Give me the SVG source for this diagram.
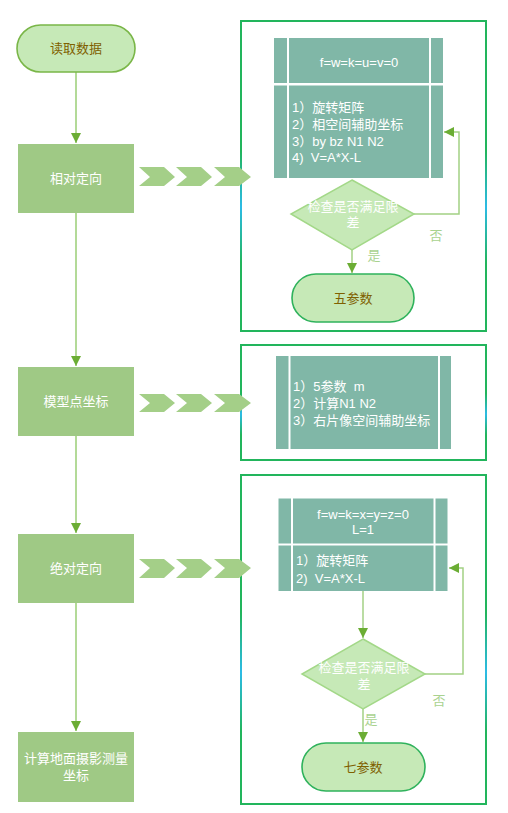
<svg xmlns="http://www.w3.org/2000/svg" width="508" height="813" viewBox="0 0 508 813">
<defs>
<linearGradient id="pg" x1="0" y1="0" x2="0" y2="1">
<stop offset="0" stop-color="#22b55c"/>
<stop offset="0.42" stop-color="#22b55c"/>
<stop offset="0.6" stop-color="#2cbbe6"/>
<stop offset="0.78" stop-color="#22b55c"/>
<stop offset="1" stop-color="#22b55c"/>
</linearGradient>
<marker id="ah" markerUnits="userSpaceOnUse" markerWidth="11" markerHeight="11" refX="10" refY="5" orient="auto">
<path d="M0,0 L10,5 L0,10 z" fill="#6bad34"/>
</marker>
<style>
.t{font-family:"Liberation Sans","Noto Sans CJK SC",sans-serif;font-size:13px;white-space:pre}
.w{fill:#ffffff}
.br{fill:#7f6000}
.lg{fill:#a9d28f}
.box{fill:#9fc985}
.term{fill:#c6e9b7;stroke-width:1.6}
.tab{fill:#80b7a7}
.dia{fill:#c6e9b7;stroke:#a3d888;stroke-width:1.5}
.panel{fill:none;stroke:url(#pg);stroke-width:2}
.chev{fill:#a4cf88}
.ln{fill:none;stroke:#b3da98;stroke-width:2}
.lp{fill:none;stroke:#a3d184;stroke-width:1.5}
</style>
</defs>

<g id="panels">
<rect id="panel1" class="panel" x="241" y="21" width="245" height="310"/>
<rect id="panel2" class="panel" x="241" y="345" width="245" height="115"/>
<rect id="panel3" class="panel" x="241" y="475" width="245" height="329"/>
</g>

<g id="connectors">
<path class="ln" d="M76,72 V143" marker-end="url(#ah)"/>
<path class="ln" d="M76,213 V366" marker-end="url(#ah)"/>
<path class="ln" d="M76,436 V533" marker-end="url(#ah)"/>
<path class="ln" d="M76,603 V731" marker-end="url(#ah)"/>
<path class="lp" d="M352,250 V273" marker-end="url(#ah)"/>
<path class="lp" d="M414,214 H459 V132 H444" marker-end="url(#ah)"/>
<path class="lp" d="M363,591 V638" marker-end="url(#ah)"/>
<path class="lp" d="M363,709 V742" marker-end="url(#ah)"/>
<path class="lp" d="M425,674 H463 V568 H449" marker-end="url(#ah)"/>
<text class="t lg" x="436" y="240" text-anchor="middle">否</text>
<text class="t lg" x="374" y="260" text-anchor="middle">是</text>
<text class="t lg" x="439" y="705" text-anchor="middle">否</text>
<text class="t lg" x="371" y="724" text-anchor="middle">是</text>
</g>

<g id="chevrons">
<g id="chev1">
<polygon class="chev" points="139,167 164,167 175,177 164,186 139,186 150,177"/>
<polygon class="chev" points="176,167 201,167 212,177 201,186 176,186 187,177"/>
<polygon class="chev" points="214,167 239,167 251,177 239,186 214,186 225,177"/>
</g>
<g id="chev2">
<polygon class="chev" points="139,394 164,394 175,403 164,412 139,412 150,403"/>
<polygon class="chev" points="176,394 201,394 212,403 201,412 176,412 187,403"/>
<polygon class="chev" points="214,394 239,394 251,403 239,412 214,412 225,403"/>
</g>
<g id="chev3">
<polygon class="chev" points="139,559 164,559 175,568 164,578 139,578 150,568"/>
<polygon class="chev" points="176,559 201,559 212,568 201,578 176,578 187,568"/>
<polygon class="chev" points="214,559 239,559 251,568 239,578 214,578 225,568"/>
</g>
</g>

<g id="start">
<rect class="term" x="17" y="25" width="118" height="47" rx="23.5" stroke="#7ab648"/>
<text class="t br" x="76" y="53" text-anchor="middle">读取数据</text>
</g>

<g id="relative">
<rect class="box" x="18" y="144" width="116" height="69"/>
<text class="t w" x="76" y="183" text-anchor="middle">相对定向</text>
</g>

<g id="model">
<rect class="box" x="18" y="367" width="116" height="69"/>
<text class="t w" x="76" y="406" text-anchor="middle">模型点坐标</text>
</g>

<g id="absolute">
<rect class="box" x="18" y="534" width="116" height="69"/>
<text class="t w" x="76" y="573" text-anchor="middle">绝对定向</text>
</g>

<g id="ground">
<rect class="box" x="18" y="732" width="116" height="70"/>
<text class="t w" x="76" y="763" text-anchor="middle">计算地面摄影测量</text>
<text class="t w" x="76" y="780" text-anchor="middle">坐标</text>
</g>

<g id="table1">
<rect class="tab" x="274" y="38" width="13" height="45"/>
<rect class="tab" x="289" y="38" width="140" height="45"/>
<rect class="tab" x="431" y="38" width="12" height="45"/>
<rect class="tab" x="274" y="85.5" width="13" height="92.5"/>
<rect class="tab" x="289" y="85.5" width="140" height="92.5"/>
<rect class="tab" x="431" y="85.5" width="12" height="92.5"/>
<text class="t w" x="359" y="66.5" text-anchor="middle">f=w=k=u=v=0</text>
<text class="t w" x="292" y="112">1）旋转矩阵</text>
<text class="t w" x="292" y="129">2）相空间辅助坐标</text>
<text class="t w" x="292" y="145.5">3）by bz N1 N2</text>
<text class="t w" x="292" y="161.5">4)  V=A*X-L</text>
</g>

<g id="check1">
<polygon class="dia" points="352,180 414,214 352,250 291,214"/>
<text class="t w" x="353" y="210.5" text-anchor="middle">检查是否满足限</text>
<text class="t w" x="353" y="226.5" text-anchor="middle">差</text>
</g>

<g id="five">
<rect class="term" x="292" y="274" width="122" height="48" rx="24" stroke="#2fb25c"/>
<text class="t br" x="353" y="302.5" text-anchor="middle">五参数</text>
</g>

<g id="table2">
<rect class="tab" x="276" y="356" width="12.5" height="93"/>
<rect class="tab" x="290.5" y="356" width="147.5" height="93"/>
<rect class="tab" x="440" y="356" width="11" height="93"/>
<text class="t w" x="293" y="391">1）5参数  m</text>
<text class="t w" x="293" y="407.5">2）计算N1 N2</text>
<text class="t w" x="293" y="424.5">3）右片像空间辅助坐标</text>
</g>

<g id="table3">
<rect class="tab" x="278.5" y="498.5" width="12.5" height="45"/>
<rect class="tab" x="293" y="498.5" width="140.5" height="45"/>
<rect class="tab" x="435.5" y="498.5" width="12" height="45"/>
<rect class="tab" x="278.5" y="545.5" width="12.5" height="45.5"/>
<rect class="tab" x="293" y="545.5" width="140.5" height="45.5"/>
<rect class="tab" x="435.5" y="545.5" width="12" height="45.5"/>
<text class="t w" x="363" y="518.5" text-anchor="middle">f=w=k=x=y=z=0</text>
<text class="t w" x="363" y="534" text-anchor="middle">L=1</text>
<text class="t w" x="296" y="564.5">1）旋转矩阵</text>
<text class="t w" x="296" y="583">2)  V=A*X-L</text>
</g>

<g id="check2">
<polygon class="dia" points="363,639 425,674 363,709 302,674"/>
<text class="t w" x="364" y="671.5" text-anchor="middle">检查是否满足限</text>
<text class="t w" x="364" y="688.5" text-anchor="middle">差</text>
</g>

<g id="seven">
<rect class="term" x="302" y="743" width="123" height="48" rx="24" stroke="#2fb25c"/>
<text class="t br" x="363" y="771.5" text-anchor="middle">七参数</text>
</g>
</svg>
